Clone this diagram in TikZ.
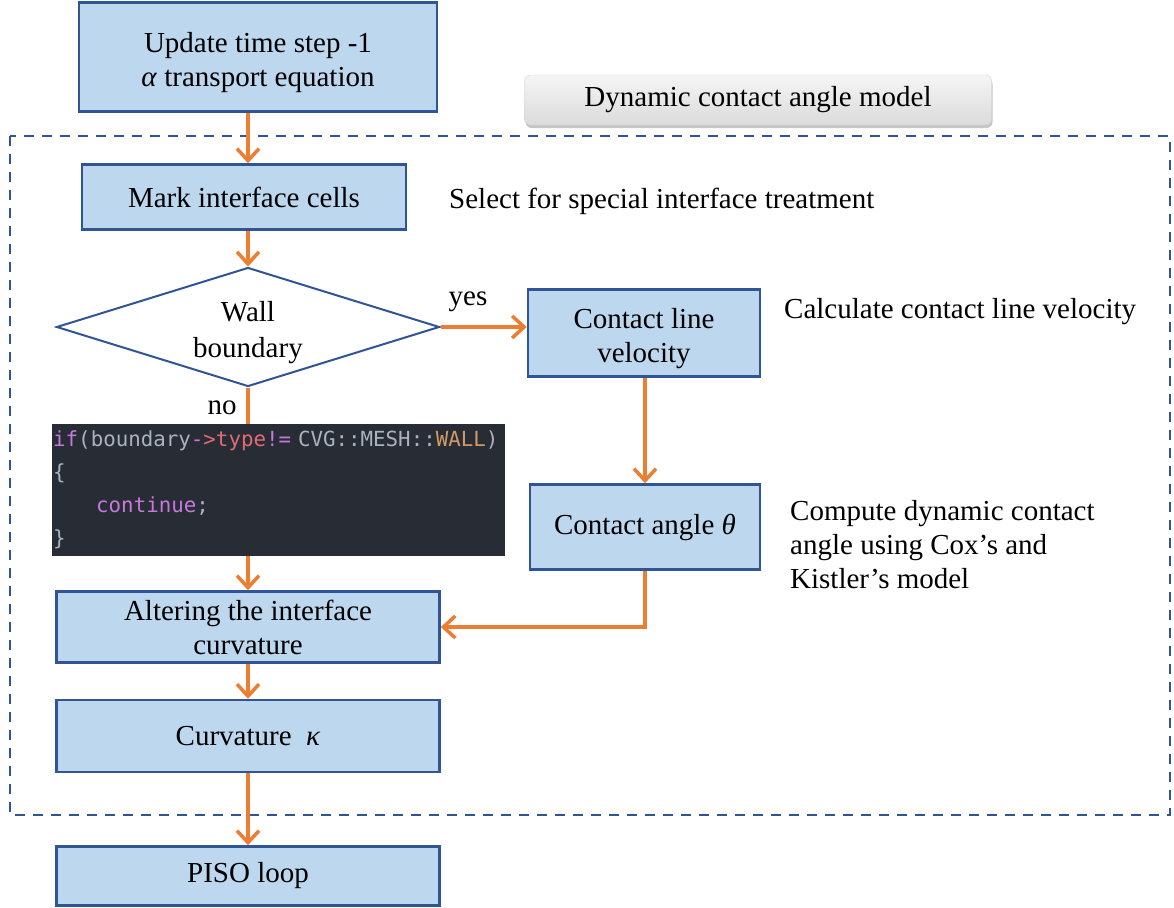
\documentclass[tikz,border=0pt]{standalone}
\usepackage{fontspec}
\setmainfont{Liberation Serif}
\newfontfamily\codefont{DejaVu Sans Mono}
\usepackage{tikz}
\usetikzlibrary{arrows.meta,positioning,calc,shapes.geometric,shadows}
\definecolor{boxblue}{RGB}{189,215,238}
\definecolor{edgeblue}{RGB}{47,85,151}
\definecolor{flowor}{RGB}{237,125,49}
\definecolor{codebg}{RGB}{40,44,52}
\definecolor{codegray}{RGB}{171,178,191}
\definecolor{codepurple}{RGB}{198,120,221}
\definecolor{codered}{RGB}{224,108,117}
\definecolor{codeorange}{RGB}{209,154,102}
% extra room above a first line
\newcommand{\topgap}{\rule{0pt}{31pt}}

\begin{document}
\begin{tikzpicture}[x=1pt,y=-1pt,
    every node/.style={font=\fontsize{29}{34}\selectfont},
    box/.style={draw=edgeblue,line width=2.5pt,fill=boxblue,align=center,inner sep=0pt},
    dec/.style={draw=edgeblue,line width=2pt,shape=diamond,aspect=3.2,inner sep=0pt,
      minimum width=383,minimum height=119,align=center},
    title/.style={rounded corners=6pt,top color=gray!8,bottom color=gray!28,draw=gray!35,
      drop shadow={opacity=0.45,shadow xshift=1pt,shadow yshift=-3pt},
      minimum width=467,minimum height=50},
    note/.style={align=left,inner sep=0pt},
    flow/.style={draw=flowor,line width=3.5pt,-{Straight Barb[length=12pt,width=22pt,line width=3.5pt]}},
    frame/.style={draw=edgeblue,line width=2pt,dash pattern=on 10pt off 8pt},
    code/.style={fill=codebg,inner xsep=1pt,inner ysep=0pt,text width=451,minimum height=132,
      align=left,text=codegray,font=\codefont\fontsize{20.8}{33}\selectfont}]
  \useasboundingbox (0,0) rectangle (1174,907);
  \draw[frame] (10,136) rectangle (1170,815);
  \node[box,minimum width=358,minimum height=109] (upd) at (258,57) {\topgap Update time step -1\\\textit{α} transport equation};
  \node[title] (dcam) at (758,100) {Dynamic contact angle model};
  \node[box,minimum width=324,minimum height=65] (mark) at (244,197) {Mark interface cells};
  \node[note,anchor=west] (sel) at (449,201) {Select for special interface treatment};
  \node[dec] (wall) at (248,327) {\topgap Wall\\[2pt]boundary};
  \node (yes) at (468,302) {yes};
  \node (no) at (222,408) {no};
  \node[box,minimum width=232,minimum height=87] (clv) at (644,333) {\topgap Contact line\\velocity};
  \node[note,anchor=west] (calc) at (784,312) {Calculate contact line velocity};
  \node[box,minimum width=230,minimum height=85] (cang) at (645,527) {Contact angle \textit{θ}};
  \node[note,anchor=west] (cox) at (790,545) {Compute dynamic contact\\angle using Cox's and\\Kistler's model};
  \node[box,minimum width=383,minimum height=71] (alt) at (248,627) {Altering the interface\\curvature};
  \node[box,minimum width=383,minimum height=72] (curv) at (248,736) {Curvature\ \ \textit{κ}};
  \node[box,minimum width=383,minimum height=59] (piso) at (248,876) {PISO loop};
  % connectors
  \draw[flow] (wall.north |- upd.south) -- (wall.north |- mark.north);
  \draw[flow] (wall.north |- mark.south) -- (wall.north);
  \draw[flow] (wall.east) -- (wall.east -| clv.west);
  \draw[flow] (clv.south -| cang.north) -- (cang.north);
  \draw[flow] (cang.south) |- (alt.east);
  \draw[flow] (wall.south) -- (alt.north);
  \draw[flow] (alt.south) -- (curv.north);
  \draw[flow] (curv.south) -- (piso.north);
  % code snippet over the no branch
  \node[code,anchor=north west] (snip) at (52,424) {%
    \mbox{\textcolor{codepurple}{if}(boundary\textcolor{codepurple}{-}\textcolor{codered}{>type}\textcolor{codepurple}{!=} CVG::MESH::\textcolor{codeorange}{WALL})}\\
    \{\\
    \hspace*{43pt}\textcolor{codepurple}{continue};\\
    \}};
\end{tikzpicture}
\end{document}
